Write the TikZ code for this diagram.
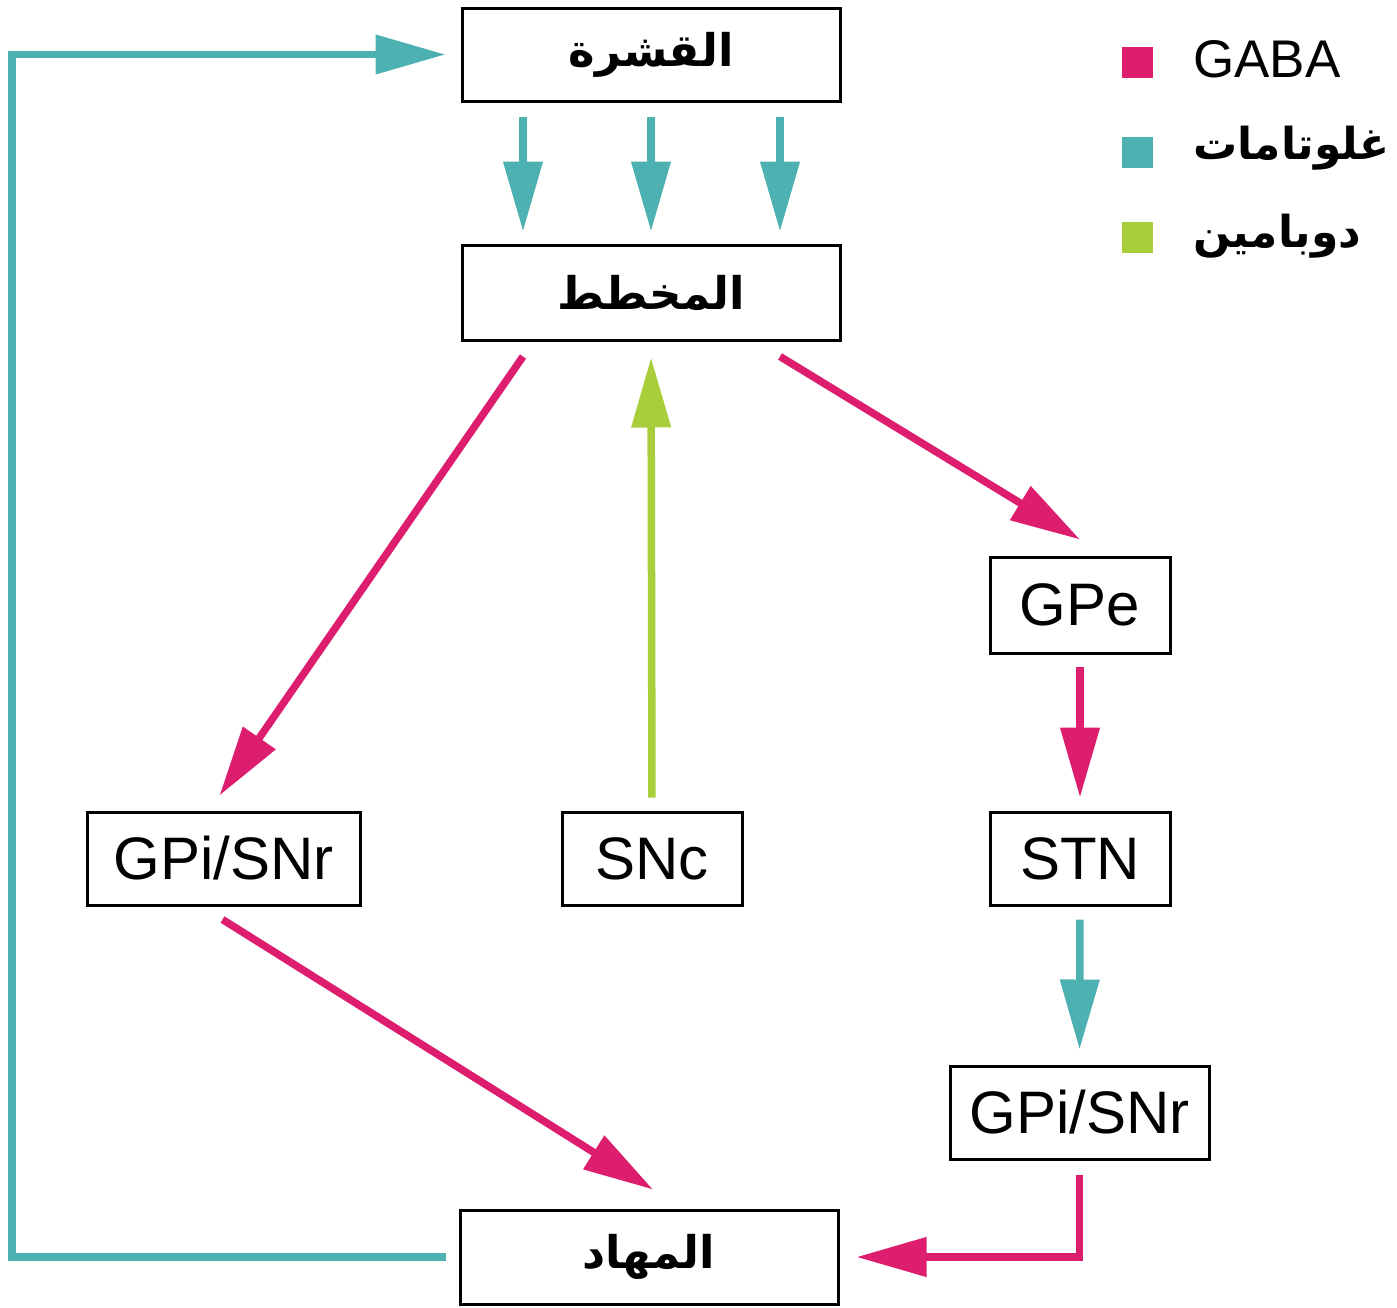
\documentclass[tikz,border=0pt]{standalone}
\usepackage{fontspec}
\setmainfont{Liberation Sans}
\newfontfamily\arabicfont[Script=Arabic]{DejaVu Sans}
\TeXXeTstate=1
\usetikzlibrary{arrows.meta}
\definecolor{gaba}{HTML}{DD1E6E}
\definecolor{glu}{HTML}{4EB1B1}
\definecolor{dopa}{HTML}{A8CE3B}
\tikzset{
  box/.style={draw=black, line width=3pt, fill=white, inner sep=0pt, font=\fontsize{60}{60}\selectfont},
  arbox/.style={box, font=\arabicfont\bfseries\fontsize{45}{45}\selectfont},
  conn/.style={line width=7.5pt, -{Triangle[length=70pt,width=38pt]}},
  legsq/.style={minimum size=31pt, inner sep=0pt},
  legtxt/.style={anchor=west, inner sep=0pt, font=\fontsize{53}{53}\selectfont},
  legar/.style={anchor=west, inner sep=0pt, font=\arabicfont\bfseries\fontsize{44}{44}\selectfont}
}
\begin{document}
\begin{tikzpicture}[x=1pt,y=-1pt]
\useasboundingbox (0,0) rectangle (1397,1307);
% boxes
\node[arbox, minimum width=378pt, minimum height=93pt] (cortex) at (651,54.5) {\beginR القشرة\endR};
\node[arbox, minimum width=378pt, minimum height=95pt] (striatum) at (651,292.5) {\beginR المخطط\endR};
\node[box, minimum width=180pt, minimum height=96pt] (gpe) at (1080,605) {GPe};
\node[box, minimum width=273pt, minimum height=93pt] (gpil) at (223.5,858.5) {GPi/SNr};
\node[box, minimum width=180pt, minimum height=93pt] (snc) at (652,858.5) {SNc};
\node[box, minimum width=180pt, minimum height=93pt] (stn) at (1080,858.5) {STN};
\node[box, minimum width=259pt, minimum height=93pt] (gpir) at (1079.5,1112.5) {GPi/SNr};
\node[arbox, minimum width=378pt, minimum height=94pt] (thal) at (649,1257) {\beginR المهاد\endR};
\coordinate (lx) at (12,0);
% cortex -> striatum
\draw[conn, glu, shorten <=14pt, shorten >=12pt] ([xshift=-128pt]cortex.south) -- ([xshift=-128pt]striatum.north);
\draw[conn, glu, shorten <=14pt, shorten >=12pt] (cortex.south) -- (striatum.north);
\draw[conn, glu, shorten <=14pt, shorten >=12pt] ([xshift=129pt]cortex.south) -- ([xshift=129pt]striatum.north);
% striatum -> GPi left
\draw[conn, gaba] ([xshift=-128pt,yshift=-15pt]striatum.south) -- ([xshift=-4pt,yshift=15pt]gpil.north);
% SNc -> striatum
\draw[conn, dopa, shorten <=13pt, shorten >=16pt] (snc.north) -- (striatum.south);
% striatum -> GPe
\draw[conn, gaba] ([xshift=129pt,yshift=-15pt]striatum.south) -- ([yshift=16pt]gpe.north);
% GPe -> STN
\draw[conn, gaba, shorten <=12pt, shorten >=13pt] (gpe.south) -- (stn.north);
% STN -> GPi right
\draw[conn, glu, shorten <=13pt, shorten >=15pt] (stn.south) -- (gpir.north);
% GPi left -> thalamus
\draw[conn, gaba] ([xshift=-1pt,yshift=-13pt]gpil.south) -- ([xshift=4pt,yshift=19pt]thal.north);
% GPi right -> thalamus
\draw[conn, gaba, shorten <=14pt, shorten >=17pt, line join=miter] (gpir.south) |- (thal.east);
% thalamus -> cortex
\draw[conn, glu, shorten <=13pt, shorten >=15pt, line join=miter] (thal.west) -- (thal.west -| lx) |- (cortex.west);
% legend
\node[legsq, fill=gaba] (lg1) at (1137.5,62.5) {};
\node[legsq, fill=glu] (lg2) at (1137.5,152) {};
\node[legsq, fill=dopa] (lg3) at (1137.5,237.5) {};
\node[legtxt] (lt1) at (1193,59) {GABA};
\node[legar] (lt2) at (1193,148) {\beginR غلوتامات\endR};
\node[legar] (lt3) at (1193,236) {\beginR دوبامين\endR};
\end{tikzpicture}
\end{document}
